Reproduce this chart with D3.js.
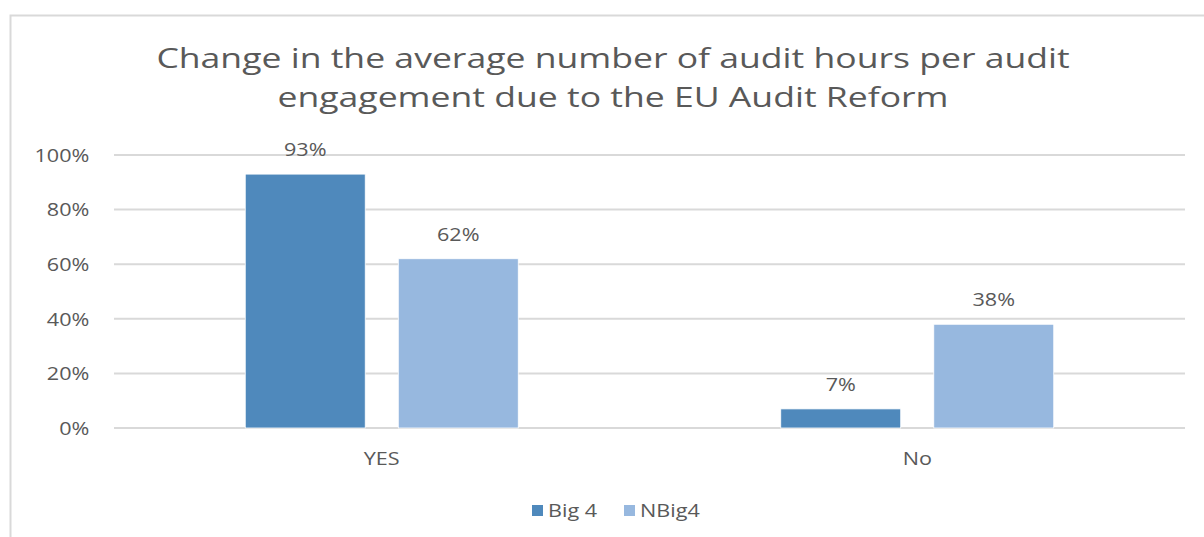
<!DOCTYPE html>
<html>
<head>
<meta charset="utf-8">
<script src="https://cdn.jsdelivr.net/npm/d3@7"></script>
<style>
  body { margin: 0; background: #fff; }
  text { font-family: "Open Sans", sans-serif; fill: #595959; }
</style>
</head>
<body>
<svg id="chart"></svg>
<script>
var categories = ["YES", "No"];
var seriesNames = ["Big 4", "NBig4"];
var big4 = [0.93, 0.07];
var nbig4 = [0.62, 0.38];
var yTicks = [0, 0.2, 0.4, 0.6, 0.8, 1.0];
var titleLines = ["Change in the average number of audit hours per audit", "engagement due to the EU Audit Reform"];

var colors = ["#4f89bc", "#97b8df"];

var size = { width: 1204, height: 537 };
var plot = { left: 114, right: 1185, top: 155, bottom: 428 };
// the picture is a little stretched sideways, so text is widened too
var stretch = 1.2;

var svg = d3.select("#chart")
  .attr("width", size.width)
  .attr("height", size.height);

// frame
svg.append("rect")
  .attr("x", 10.5).attr("y", 15.5)
  .attr("width", 1210).attr("height", 540)
  .attr("fill", "none")
  .attr("stroke", "#d9d9d9")
  .attr("stroke-width", 2);

svg.selectAll(".title")
  .data(titleLines)
  .enter().append("text")
    .attr("class", "title")
    .attr("transform", function(d, i) { return "translate(613," + (68 + i * 39) + ") scale(1.27,1)"; })
    .attr("text-anchor", "middle")
    .style("font-size", "28px")
    .text(function(d) { return d; });

var x = d3.scaleBand()
  .domain(categories)
  .range([plot.left, plot.right]);

var x1 = d3.scaleBand()
  .domain(seriesNames)
  .range([0, 273])
  .paddingInner(0.216);

var y = d3.scaleLinear()
  .domain([0, 1])
  .range([plot.bottom, plot.top]);

// gridlines
svg.append("g")
  .selectAll("line")
  .data(yTicks)
  .enter().append("line")
    .attr("x1", plot.left).attr("x2", plot.right)
    .attr("y1", function(d) { return y(d); })
    .attr("y2", function(d) { return y(d); })
    .attr("stroke", "#d9d9d9")
    .attr("stroke-width", 2);

var yAxis = svg.append("g")
  .attr("transform", "translate(" + 93 + ",0)")
  .call(d3.axisLeft(y).tickValues(yTicks).tickFormat(d3.format(".0%")).tickSize(0));
yAxis.select(".domain").remove();
yAxis.selectAll("text")
  .style("font-size", "18px")
  .attr("dy", "0.35em")
  .attr("transform", "scale(" + stretch + ",1)");

var xAxis = svg.append("g")
  .attr("transform", "translate(0," + (plot.bottom + 21) + ")")
  .call(d3.axisBottom(x).tickSize(0));
xAxis.select(".domain").remove();
xAxis.selectAll("text")
  .style("font-size", "18px")
  .attr("transform", "scale(" + stretch + ",1)");

var rows = categories.map(function(c, i) {
  return { cat: c, values: [big4[i], nbig4[i]] };
});

var groups = svg.selectAll(".grp")
  .data(rows)
  .enter().append("g")
    .attr("class", "grp")
    .attr("transform", function(d) {
      return "translate(" + (x(d.cat) + x.bandwidth() / 2 - 136.5) + ",0)";
    });

groups.selectAll("rect")
  .data(function(d) { return d.values.map(function(v, j) { return { name: seriesNames[j], v: v, j: j }; }); })
  .enter().append("rect")
    .attr("x", function(d) { return x1(d.name); })
    .attr("width", x1.bandwidth())
    .attr("y", function(d) { return y(d.v); })
    .attr("height", function(d) { return y(0) - y(d.v); })
    .attr("fill", function(d) { return colors[d.j]; })
    .attr("stroke", "#ffffff")
    .attr("stroke-width", 0.8);

groups.selectAll(".lbl")
  .data(function(d) { return d.values.map(function(v, j) { return { name: seriesNames[j], v: v }; }); })
  .enter().append("text")
    .attr("class", "lbl")
    .attr("transform", function(d) {
      return "translate(" + (x1(d.name) + x1.bandwidth() / 2) + "," + (y(d.v) - 18) + ") scale(" + stretch + ",1)";
    })
    .attr("text-anchor", "middle")
    .style("font-size", "18px")
    .text(function(d) { return d3.format(".0%")(d.v); });

// legend
var legend = svg.selectAll(".legend")
  .data(seriesNames)
  .enter().append("g")
    .attr("class", "legend")
    .attr("transform", function(d, i) { return "translate(" + (532 + i * 92) + ",505)"; });

legend.append("rect")
  .attr("width", 11).attr("height", 11)
  .attr("fill", function(d, i) { return colors[i]; });

legend.append("text")
  .attr("transform", "translate(16,12) scale(" + stretch + ",1)")
  .style("font-size", "18px")
  .text(function(d) { return d; });
</script>
</body>
</html>
